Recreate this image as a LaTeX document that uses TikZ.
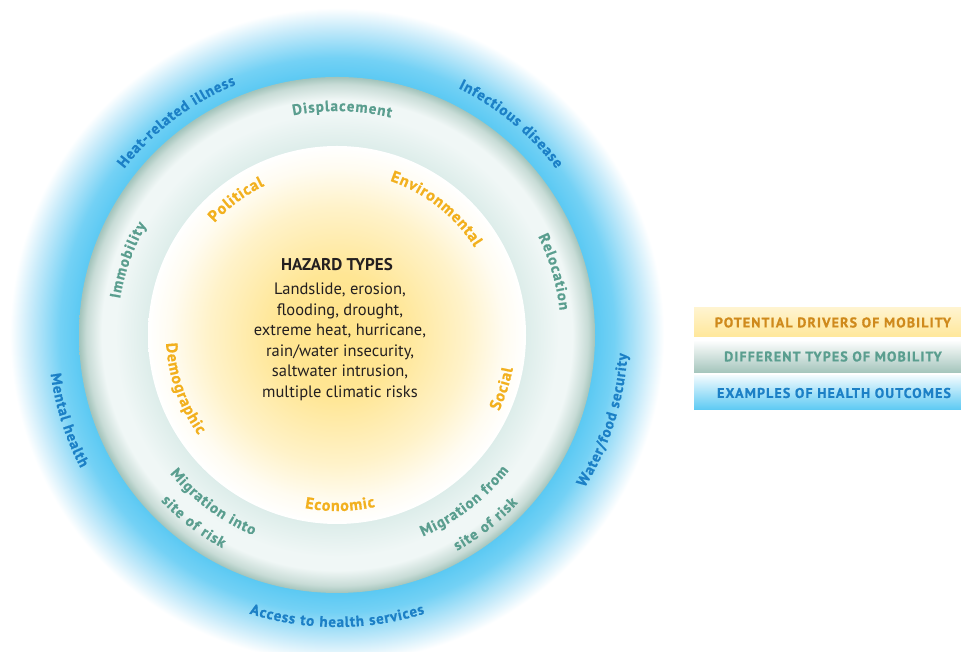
\documentclass[tikz,border=0pt]{standalone}
\usepackage{fontspec}
\setmainfont{PT Sans}
\newfontfamily\trackedfont[LetterSpace=8, BoldFeatures={FakeBold=0.8}]{PT Sans}
\newfontfamily\labelfont[BoldFeatures={FakeBold=0.8}]{PT Sans}
\usetikzlibrary{decorations.text,positioning}

\definecolor{glowblue}{HTML}{5BC9F3}
\definecolor{glowmid}{HTML}{C8EBFA}
\definecolor{ringedge}{HTML}{A3C4BB}
\definecolor{ringlight}{HTML}{F0F7F6}
\definecolor{ringinner}{HTML}{DDEDEA}
\definecolor{sunyellow}{HTML}{FFE388}
\definecolor{drivergold}{HTML}{F2B01E}
\definecolor{legendgold}{HTML}{CF8A1C}
\definecolor{mobteal}{HTML}{5A9E8F}
\definecolor{outcomeblue}{HTML}{1C80C6}
\definecolor{hazardtext}{HTML}{231F20}

\pgfdeclareradialshading{healthglow}{\pgfpoint{0bp}{0bp}}{%
  color(0bp)=(glowblue); color(19.7bp)=(glowblue); color(21.2bp)=(glowblue!85!white);
  color(23.5bp)=(glowmid); color(25bp)=(white); color(50bp)=(white)}
\pgfdeclareradialshading{mobilityring}{\pgfpoint{0bp}{0bp}}{%
  color(0bp)=(ringinner); color(18.3bp)=(ringinner); color(21.5bp)=(ringlight);
  color(22.8bp)=(ringlight); color(24.3bp)=(ringedge!60!white); color(25bp)=(ringedge); color(50bp)=(ringedge)}
\pgfdeclareradialshading{driverdisc}{\pgfpoint{0bp}{0bp}}{%
  color(0bp)=(sunyellow); color(8bp)=(sunyellow!90!white); color(17bp)=(sunyellow!45!white);
  color(22bp)=(sunyellow!12!white); color(25bp)=(white); color(50bp)=(white)}

\newcommand\outcomefont{\labelfont\fontsize{15}{18}\selectfont\bfseries}
\newcommand\mobilityfont{\labelfont\fontsize{15}{18}\selectfont\bfseries}
\newcommand\driverfont{\labelfont\fontsize{16}{19}\selectfont\bfseries}

\tikzset{
  outcome/.style={decorate, decoration={text effects along path, text={#1}, text align=center,
    text effects/.cd, text along path, characters={font=\outcomefont, text=outcomeblue, inner sep=0pt},
    character widths={font=\outcomefont, inner xsep=0.4pt}}},
  mobility/.style={decorate, decoration={text effects along path, text={#1}, text align=center,
    text effects/.cd, text along path, characters={font=\mobilityfont, text=mobteal, inner sep=0pt},
    character widths={font=\mobilityfont, inner xsep=0.5pt}}},
  driver/.style={decorate, decoration={text effects along path, text={#1}, text align=center,
    text effects/.cd, text along path, characters={font=\driverfont, text=drivergold, inner sep=0pt},
    character widths={font=\driverfont, inner xsep=0.4pt}}},
  legendtext/.style={font=\trackedfont\fontsize{14}{16}\selectfont\bfseries, inner sep=0pt}
}

\begin{document}
\begin{tikzpicture}[x=1pt, y=1pt]
\useasboundingbox (0,0) rectangle (961,652);
\clip (0,0) rectangle (961,652);
\fill [white] (0,0) rectangle (961,652);

\begin{scope}[shift={(337,317)}]
\shade [shading=healthglow] (0,0) circle [radius=327];
\shade [shading=mobilityring] (0,0) circle [radius=258];
\shade [shading=driverdisc] (0,0) circle [radius=189];

\path [outcome={Heat-related illness}] (167:270) arc [start angle=167, end angle=87, radius=270];
\path [outcome={Infectious disease}] (90.5:275) arc [start angle=90.5, end angle=10.5, radius=275];
\path [outcome={Mental health}] (157.6:289) arc [start angle=157.6, end angle=237.6, radius=289];
\path [outcome={Water/food security}] (-57.7:291) arc [start angle=-57.7, end angle=22.3, radius=291];
\path [outcome={Access to health services}] (-130:292) arc [start angle=-130, end angle=-50, radius=292];

\path [mobility={Displacement}] (128.7:224) arc [start angle=128.7, end angle=48.7, radius=224];
\path [mobility={Relocation}] (56.2:224) arc [start angle=56.2, end angle=-23.8, radius=224];
\path [mobility={Immobility}] (200.3:220) arc [start angle=200.3, end angle=120.3, radius=220];
\path [mobility={Migration into}] (193.5:217) arc [start angle=193.5, end angle=273.5, radius=217];
\path [mobility={site of risk}] (192.5:242) arc [start angle=192.5, end angle=272.5, radius=242];
\path [mobility={Migration from}] (-92.6:219) arc [start angle=-92.6, end angle=-12.6, radius=219];
\path [mobility={site of risk}] (-91.9:247) arc [start angle=-91.9, end angle=-11.9, radius=247];

\path [driver={Political}] (166.7:166) arc [start angle=166.7, end angle=86.7, radius=166];
\path [driver={Environmental}] (91.8:163) arc [start angle=91.8, end angle=11.8, radius=163];
\path [driver={Social}] (-58:179) arc [start angle=-58, end angle=22, radius=179];
\path [driver={Demographic}] (159.3:171) arc [start angle=159.3, end angle=239.3, radius=171];
\path [driver={Economic}] (-129:176) arc [start angle=-129, end angle=-49, radius=176];

\node [font=\fontsize{17}{20}\selectfont\bfseries, text=hazardtext] (hazard) at (0,70) {HAZARD TYPES};
\node [align=center, font=\fontsize{16.5}{20.5}\selectfont, text=hazardtext] (hazardlist) at (3,-7)
  {Landslide, erosion,\\ flooding, drought,\\ extreme heat, hurricane,\\ rain/water insecurity,\\ saltwater intrusion,\\ multiple climatic risks};
\end{scope}

\shade [top color=sunyellow!40!white, bottom color=sunyellow!85!white] (694,315) rectangle (961,344);
\shade [top color=white, bottom color=ringedge] (694,279) rectangle (961,312);
\shade [top color=glowblue!10!white, bottom color=glowblue] (694,242) rectangle (961,276);
\node [legendtext, text=legendgold] (drivers) at (833,329.5) {POTENTIAL DRIVERS OF MOBILITY};
\node [legendtext, text=mobteal] (mobility) at (833,295.5) {DIFFERENT TYPES OF MOBILITY};
\node [legendtext, text=outcomeblue] (outcomes) at (834,259) {EXAMPLES OF HEALTH OUTCOMES};
\end{tikzpicture}
\end{document}
